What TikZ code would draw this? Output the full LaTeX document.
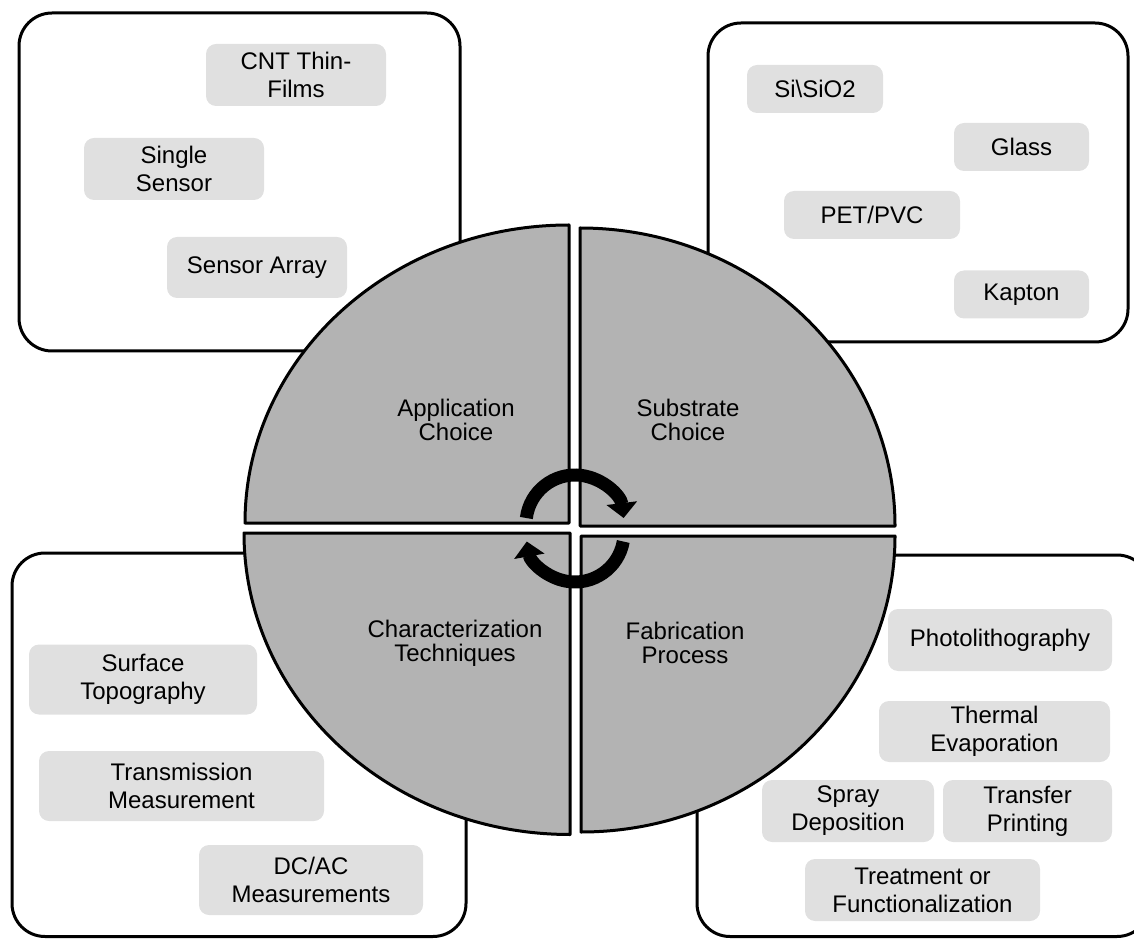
\documentclass[tikz,border=0pt]{standalone}
\usepackage{fontspec}
\setmainfont{Liberation Sans}
\usetikzlibrary{arrows.meta}
\usetikzlibrary{positioning}
\definecolor{quadgray}{HTML}{B3B3B3}
\definecolor{itemgray}{HTML}{E0E0E0}

\begin{document}
\begin{tikzpicture}[x=1pt,y=1pt,
  panel/.style={draw,line width=3pt,rounded corners=33pt},
  quarter/.style={draw,fill=quadgray,line width=3pt,line join=round},
  item/.style={fill=itemgray,rounded corners=10pt,align=center,inner sep=0pt,font=\fontsize{24}{28}\selectfont},
  phase/.style={align=center,inner sep=0pt,font=\fontsize{24}{24}\selectfont},
  turn/.style={line width=13pt,-{Triangle[length=15pt,width=30pt]}}]
  \useasboundingbox (0,0) rectangle (1134,938);
  % the four frames
  \draw[panel](19,587) rectangle (460,925);
  \draw[panel](708,596) rectangle (1128,915);
  \draw[panel](12,1.5) rectangle (466,385);
  \draw[panel](697,1.5) rectangle (1150,383);
  % the wheel
  \draw[quarter](569,415) -- (245,415) arc[start angle=180,end angle=90,x radius=324,y radius=298] -- cycle;
  \draw[quarter](580,412) -- (580,710) arc[start angle=90,end angle=0,x radius=315,y radius=298] -- cycle;
  \draw[quarter](570,405) -- (244,405) arc[start angle=180,end angle=270,x radius=326,y radius=301.5] -- cycle;
  \draw[quarter](581,402) -- (895,402) arc[start angle=0,end angle=-90,x radius=314,y radius=296] -- cycle;
  \node[phase] (app) at (456,518) {Application\\Choice};
  \node[phase] (sub) at (688,518) {Substrate\\Choice};
  \node[phase] (char) at (455,295) {Characterization\\Techniques};
  \node[phase] (fab) at (685,295) {Fabrication\\Process};
  \coordinate (hub) at (575,410);
  \draw[turn]([shift={(173:49)},yshift=4pt]hub) arc[start angle=173,end angle=7,radius=49];
  \draw[turn]([shift={(-10:49)},yshift=-5pt]hub) arc[start angle=-10,end angle=-170,radius=49];
  % application
  \node[item,minimum width=180pt,minimum height=62pt] (cnt) at (296,863) {CNT Thin-\\Films};
  \node[item,minimum width=180pt,minimum height=62pt] (single) at (174,769) {Single\\Sensor};
  \node[item,minimum width=180pt,minimum height=61pt] (array) at (257,670.5) {Sensor Array};
  % substrate
  \node[item,minimum width=136pt,minimum height=48pt] (si) at (815,849) {Si\textbackslash SiO2};
  \node[item,minimum width=135pt,minimum height=48pt] (glass) at (1021.5,791) {Glass};
  \node[item,minimum width=176pt,minimum height=48pt] (pet) at (872,723) {PET/PVC};
  \node[item,minimum width=135pt,minimum height=48pt] (kapton) at (1021.5,643.5) {Kapton};
  % characterization
  \node[item,minimum width=228pt,minimum height=70pt] (surf) at (143,258.5) {Surface\\Topography};
  \node[item,minimum width=285pt,minimum height=70pt] (trans) at (181.5,152) {Transmission\\Measurement};
  \node[item,minimum width=224pt,minimum height=70pt] (dcac) at (311,58) {DC/AC\\Measurements};
  % fabrication
  \node[item,minimum width=224pt,minimum height=62pt] (photo) at (1000,298) {Photolithography};
  \node[item,minimum width=231pt,minimum height=61pt] (therm) at (994.5,206.5) {Thermal\\Evaporation};
  \node[item,minimum width=172pt,minimum height=62pt] (spray) at (848,127) {Spray\\Deposition};
  \node[item,minimum width=169pt,minimum height=62pt] (transfer) at (1027.5,127) {Transfer\\Printing};
  \node[item,minimum width=235pt,minimum height=62pt] (treat) at (922.5,48) {Treatment or\\Functionalization};
\end{tikzpicture}
\end{document}
